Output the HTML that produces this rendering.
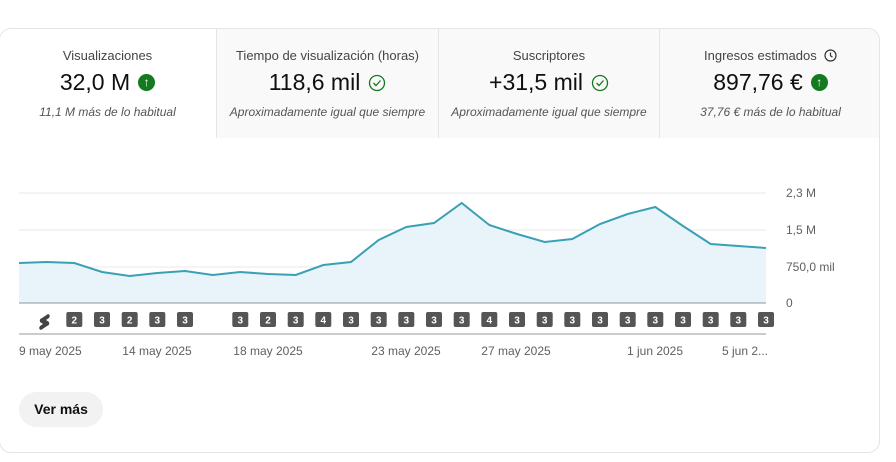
<!DOCTYPE html>
<html><head><meta charset="utf-8"><style>
body{margin:0;width:896px;height:462px;background:#fff;font-family:"Liberation Sans",Arial,sans-serif;overflow:hidden;position:relative}
.card{position:absolute;left:-1px;top:28px;width:879px;height:423px;border:1px solid #e5e5e5;border-radius:12px;overflow:hidden;background:#fff}
.tab{position:absolute;top:0;height:109px;text-align:center;background:#f9f9f9;border-left:1px solid #e5e5e5}
.t1{font-size:13px;color:#444;margin-top:19px}
.t2{font-size:23px;color:#0f0f0f;margin-top:6px;display:flex;justify-content:center;align-items:center;gap:8px}
.t3{font-size:12px;color:#555;font-style:italic;margin-top:9px}
.up{width:17px;height:17px;border-radius:50%;background:#137a1f;color:#fff;font-size:12px;line-height:17px;font-weight:bold;display:inline-block}
.btn{position:absolute;left:19px;top:392px;width:84px;height:35px;border-radius:18px;background:#f2f2f2;font-size:14px;font-weight:bold;line-height:35px;text-align:center;color:#0f0f0f}
</style></head><body>
<div class="card">
<div class="tab" style="left:0;width:215px;background:#fff;border-left:none"><div class="t1">Visualizaciones</div><div class="t2">32,0 M <span class="up">↑</span></div><div class="t3">11,1 M más de lo habitual</div></div>
<div class="tab" style="left:216px;width:221px"><div class="t1">Tiempo de visualización (horas)</div><div class="t2">118,6 mil <svg width="18" height="18"><circle cx="9" cy="9" r="7.5" fill="none" stroke="#137a1f" stroke-width="1.3"/><path d="M5.5 9l2.5 2.5 4.5-5" fill="none" stroke="#137a1f" stroke-width="1.3"/></svg></div><div class="t3">Aproximadamente igual que siempre</div></div>
<div class="tab" style="left:438px;width:220px"><div class="t1">Suscriptores</div><div class="t2">+31,5 mil <svg width="18" height="18"><circle cx="9" cy="9" r="7.5" fill="none" stroke="#137a1f" stroke-width="1.3"/><path d="M5.5 9l2.5 2.5 4.5-5" fill="none" stroke="#137a1f" stroke-width="1.3"/></svg></div><div class="t3">Aproximadamente igual que siempre</div></div>
<div class="tab" style="left:659px;width:221px"><div class="t1">Ingresos estimados &nbsp;<svg width="13" height="13" style="vertical-align:-2px"><circle cx="6.5" cy="6.5" r="5.5" fill="none" stroke="#333" stroke-width="1.2"/><path d="M6.5 3.5v3.2l2 1.5" fill="none" stroke="#333" stroke-width="1.2"/></svg></div><div class="t2">897,76 € <span class="up">↑</span></div><div class="t3">37,76 € más de lo habitual</div></div>
</div>
<svg style="position:absolute;left:0;top:0" width="896" height="462" font-family="Liberation Sans,Arial,sans-serif">
<g stroke="#e8e8e8" stroke-width="1"><line x1="19" x2="766" y1="193" y2="193"/><line x1="19" x2="766" y1="230" y2="230"/><line x1="19" x2="766" y1="267" y2="267"/></g>
<path id="fill" fill="#e8f4f9" d="M19 303 L19 263 L46.7 262 L74.3 263 L102 272 L129.7 276 L157.3 273 L185 271 L212.7 275 L240.3 272 L268 274 L295.7 275 L323.3 265 L351 262 L378.7 240 L406.3 227 L434 223 L461.7 203 L489.3 225 L517 234 L544.7 242 L572.3 239 L600 224 L627.7 214 L655.3 207 L683 226 L710.7 244 L738.3 246 L766 248 L766 303Z"/>
<polyline fill="none" stroke="#3aa0b5" stroke-width="2" points="19,263 46.7,262 74.3,263 102,272 129.7,276 157.3,273 185,271 212.7,275 240.3,272 268,274 295.7,275 323.3,265 351,262 378.7,240 406.3,227 434,223 461.7,203 489.3,225 517,234 544.7,242 572.3,239 600,224 627.7,214 655.3,207 683,226 710.7,244 738.3,246 766,248"/>
<line x1="19" x2="766" y1="303" y2="303" stroke="#8a9aa0" stroke-width="1"/>
<line x1="19" x2="766" y1="334" y2="334" stroke="#ccc" stroke-width="2"/>
<g font-size="12" fill="#606060"><text x="786" y="197">2,3 M</text><text x="786" y="234">1,5 M</text><text x="786" y="271">750,0 mil</text><text x="786" y="307">0</text></g>
<path d="M42 318 l6-4 q3 1 1 4 l-3 2 l3 2 q1 3-2 4 l-6 4 q-3-1-1-4 l3-2-3-2 q-1-3 2-4z" fill="#444"/>
<g id="b"></g>
<g font-size="12" fill="#606060"><text x="19" y="355">9 may 2025</text><text x="157" y="355" text-anchor="middle">14 may 2025</text><text x="268" y="355" text-anchor="middle">18 may 2025</text><text x="406" y="355" text-anchor="middle">23 may 2025</text><text x="516" y="355" text-anchor="middle">27 may 2025</text><text x="655" y="355" text-anchor="middle">1 jun 2025</text><text x="722" y="355">5 jun 2...</text></g>
</svg>
<div class="btn">Ver más</div>
<script>
var xs=[74.3,102,129.7,157.3,185,240.3,268,295.7,323.3,351,378.7,406.3,434,461.7,489.3,517,544.7,572.3,600,627.7,655.3,683,710.7,738.3,766];
var v="2323332343333343333333333";var s="";
for(var i=0;i<xs.length;i++){s+='<rect x="'+(xs[i]-8)+'" y="312" width="16" height="15" rx="2" fill="#555"/><text x="'+xs[i]+'" y="323.5" text-anchor="middle" font-size="10" font-weight="bold" fill="#fff">'+v[i]+'</text>';}
document.getElementById('b').innerHTML=s;
</script>
</body></html>
